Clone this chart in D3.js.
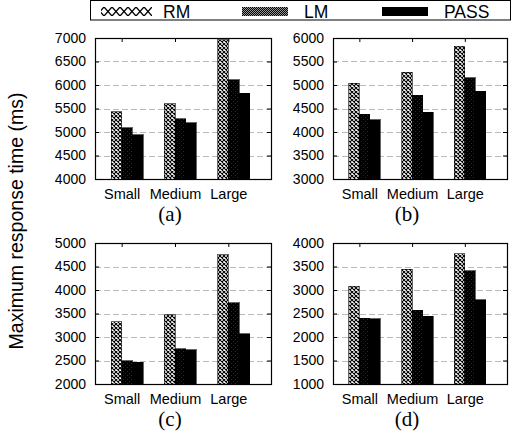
<!DOCTYPE html>
<html>
<head>
<meta charset="utf-8">
<script src="https://cdn.jsdelivr.net/npm/d3@7"></script>
<style>
  body { margin: 0; background: #fff; }
  svg { display: block; }
  text { font-family: "Liberation Sans", Arial, sans-serif; fill: #000; }
  .sub { font-family: "Liberation Serif", "DejaVu Serif", serif; }
</style>
</head>
<body>
<svg id="chart" width="516" height="441"></svg>
<script>
'use strict';

// data
const categories = ["Small", "Medium", "Large"];
const seriesNames = ["RM", "LM", "PASS"];

const rmA = [5430, 5600, 6960];
const lmA = [5090, 5280, 6110];
const passA = [4940, 5200, 5820];

const rmB = [5040, 5270, 5820];
const lmB = [4380, 4780, 5150];
const passB = [4260, 4420, 4870];

const rmC = [3320, 3470, 4750];
const lmC = [2500, 2750, 3730];
const passC = [2460, 2730, 3070];

const rmD = [3080, 3440, 3770];
const lmD = [2400, 2570, 3410];
const passD = [2390, 2440, 2790];

const ticksA = [4000, 4500, 5000, 5500, 6000, 6500, 7000];
const ticksB = [3000, 3500, 4000, 4500, 5000, 5500, 6000];
const ticksC = [2000, 2500, 3000, 3500, 4000, 4500, 5000];
const ticksD = [1000, 1500, 2000, 2500, 3000, 3500, 4000];

const subLabels = ["(a)", "(b)", "(c)", "(d)"];
const yTitle = "Maximum response time (ms)";

let svg = d3.select("#chart");

// fill patterns
let defs = svg.append("defs");

let pRM = defs.append("pattern").attr("id", "pRM")
	.attr("patternUnits", "userSpaceOnUse").attr("width", 4).attr("height", 4);
pRM.append("rect").attr("width", 4).attr("height", 4).attr("fill", "#fff");
pRM.append("path").attr("d", "M0,0L4,4M4,0L0,4").attr("stroke", "#000").attr("stroke-width", 1.1);

let pRMleg = defs.append("pattern").attr("id", "pRMleg")
	.attr("patternUnits", "userSpaceOnUse").attr("width", 8).attr("height", 9).attr("y", 7);
pRMleg.append("rect").attr("width", 8).attr("height", 9).attr("fill", "#fff");
pRMleg.append("path").attr("d", "M0,0L8,9M8,0L0,9").attr("stroke", "#000").attr("stroke-width", 1.3);

let pLM = defs.append("pattern").attr("id", "pLM")
	.attr("patternUnits", "userSpaceOnUse").attr("width", 4).attr("height", 4);
pLM.append("rect").attr("width", 4).attr("height", 4).attr("fill", "#000");
pLM.append("rect").attr("x", 1).attr("y", 1).attr("width", 1).attr("height", 1).attr("fill", "#2a2a2a");
pLM.append("rect").attr("x", 3).attr("y", 3).attr("width", 1).attr("height", 1).attr("fill", "#2a2a2a");

let pLMleg = defs.append("pattern").attr("id", "pLMleg")
	.attr("patternUnits", "userSpaceOnUse").attr("width", 2).attr("height", 2);
pLMleg.append("rect").attr("width", 2).attr("height", 2).attr("fill", "#000");
pLMleg.append("rect").attr("width", 1).attr("height", 1).attr("fill", "#999");
pLMleg.append("rect").attr("x", 1).attr("y", 1).attr("width", 1).attr("height", 1).attr("fill", "#999");

const fills = ["url(#pRM)", "url(#pLM)", "#000"];
const legFills = ["url(#pRMleg)", "url(#pLMleg)", "#000"];

// legend
let leg = svg.append("g");
leg.append("rect").attr("x", 90.5).attr("y", 0.5).attr("width", 420).attr("height", 19.5)
	.attr("fill", "#fff").attr("stroke", "#000");
let legX = [101, 242, 382];
seriesNames.forEach(function (name, i) {
	leg.append("rect").attr("x", legX[i]).attr("y", 7).attr("width", 51 - (i ? 5 : 0)).attr("height", 9)
		.attr("fill", legFills[i]).attr("shape-rendering", "crispEdges");
	leg.append("text").attr("x", legX[i] + 62).attr("y", 17.5)
		.style("font-size", "17.5px").text(name);
});

// y title
svg.append("text")
	.attr("transform", "translate(23,221) rotate(-90)")
	.attr("text-anchor", "middle")
	.style("font-size", "19.5px")
	.text(yTitle);

function drawPanel(box, rm, lm, pass, ticks, sub) {
	let x = d3.scaleLinear().domain([-0.5, 2.8]).range([box.x0, box.x1]);
	let y = d3.scaleLinear().domain([ticks[0], ticks[ticks.length - 1]]).range([box.y1, box.y0]);
	let g = svg.append("g");

	// grid
	g.selectAll(".grid").data(ticks.slice(1, -1)).enter().append("line")
		.attr("x1", box.x0).attr("x2", box.x1)
		.attr("y1", d => Math.round(y(d)) + 0.5).attr("y2", d => Math.round(y(d)) + 0.5)
		.attr("stroke", "#bbb").attr("stroke-dasharray", "6,3");

	// bars
	let series = [rm, lm, pass];
	let offs = [-0.2, 0, 0.2];
	series.forEach(function (vals, s) {
		g.selectAll(".bar" + s).data(vals).enter().append("rect")
			.attr("x", (d, i) => x(i + offs[s]))
			.attr("width", x(0.2) - x(0))
			.attr("y", d => y(d))
			.attr("height", d => y(ticks[0]) - y(d))
			.attr("fill", fills[s])
			.attr("stroke", "#000").attr("stroke-width", 0.6)
			.attr("shape-rendering", "crispEdges");
	});

	// axes: inward ticks, mirrored
	g.append("g").attr("transform", "translate(" + box.x0 + ",0)")
		.call(d3.axisLeft(y).tickValues(ticks).tickSize(-4).tickPadding(9).tickFormat(d3.format("d")))
		.call(a => a.select(".domain").remove())
		.call(a => a.selectAll("text").style("font-size", "14px").style("font-family", "Liberation Sans, Arial, sans-serif"));
	g.append("g").attr("transform", "translate(" + box.x1 + ",0)")
		.call(d3.axisRight(y).tickValues(ticks).tickSize(-4).tickFormat(""))
		.call(a => a.select(".domain").remove());
	g.append("g").attr("transform", "translate(0," + box.y0 + ")")
		.call(d3.axisTop(x).tickValues([0, 1, 2]).tickSize(-4).tickFormat(""))
		.call(a => a.select(".domain").remove());
	g.append("g").attr("transform", "translate(0," + box.y1 + ")")
		.call(d3.axisBottom(x).tickValues([0, 1, 2]).tickSize(0).tickPadding(10).tickFormat(i => categories[i]))
		.call(a => a.select(".domain").remove())
		.call(a => a.selectAll("text").style("font-size", "14.5px").style("font-family", "Liberation Sans, Arial, sans-serif"));

	// frame
	g.append("rect").attr("x", box.x0 + 0.5).attr("y", box.y0 + 0.5)
		.attr("width", box.x1 - box.x0).attr("height", box.y1 - box.y0)
		.attr("fill", "none").attr("stroke", "#000").attr("stroke-width", 1.2);

	g.append("text").attr("class", "sub")
		.attr("x", (box.x0 + box.x1) / 2 - 13).attr("y", box.y1 + 42)
		.attr("text-anchor", "middle").style("font-size", "21px")
		.text(sub);
}

drawPanel({x0: 95, x1: 271, y0: 38, y1: 179}, rmA, lmA, passA, ticksA, subLabels[0]);
drawPanel({x0: 333, x1: 507, y0: 38, y1: 179}, rmB, lmB, passB, ticksB, subLabels[1]);
drawPanel({x0: 95, x1: 271, y0: 243, y1: 384}, rmC, lmC, passC, ticksC, subLabels[2]);
drawPanel({x0: 333, x1: 507, y0: 243, y1: 384}, rmD, lmD, passD, ticksD, subLabels[3]);
</script>
</body>
</html>
